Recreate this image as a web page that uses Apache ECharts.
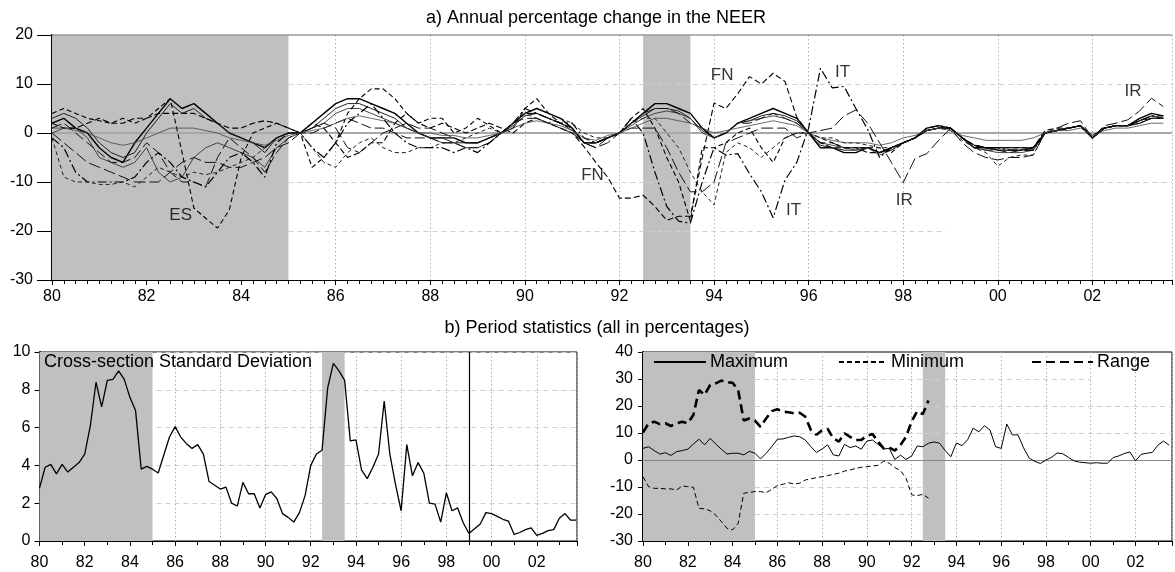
<!DOCTYPE html>
<html><head><meta charset="utf-8">
<script src="https://cdn.jsdelivr.net/npm/echarts@6/dist/echarts.min.js"></script>
<style>html,body{margin:0;padding:0;background:#fff}#c{width:1175px;height:572px}</style>
</head><body><div id="c"></div>
<script>
// ---------- DATA ----------
const startYear = 1980; // quarterly observations from 1980Q1
const shadePeriods = [[1980, 1985], [1992.5, 1993.5]];
const breakYear = 1999;

// a) Annual percentage change in the NEER (quarterly, 1980.00 .. 2003.50)
const DE = [2,3,1,0, -3,-5,-6,-2, 1,4,7,5, 6,4,2,0, -1,-2,-3,-1, 0,0,2,4, 6,7,7,6, 5,4,2,0, -1,-1,-1,-2, -2,-1,0,2, 4,5,4,3, 1,-2,-2,-1, 0,2,4,6, 6,5,4,1, -1,0,2,3, 4,5,4,3, 0,-3,-3,-4, -4,-3,-4,-3, -2,-1,1,1.5, 1,-1,-3,-3, -3.5,-3.5,-3.5,-3, 0,0.5,1,1.5, -1,1,1.5,1.5, 3,4,3.5];
const NL = [3,4,3,1, -2,-4,-5,-4, 0,3,6,4, 5,3,2,0, -1,-2,-4,-1, 0,0,1,3, 5,6,6,5, 4,3,1,0, -1,-1,-2,-2, -2,-1,0,1.5, 3.5,4,3,2, 0.5,-2,-2,-1, 0,2,3.5,5, 5,4.5,3,0.5, -1,0,2,2.5, 3.5,4,3.5,2.5, 0,-2.5,-3,-3.5, -3.5,-3,-4,-3.5, -2,-1,0.5,1, 1,-1,-2.5,-3, -3,-3,-3,-3, 0,0.5,1,1.5, -0.5,1,1.5,1.5, 2.5,3.5,3];
const BE = [0,1,1,-1, -5,-6,-7,-6, -3,-8,-10,-9, -5,-3,-2,-3, -4,-5,-7,-3, -1,0,1,2, 4,5,5,4, 3,2,1,0, -1,-2,-2,-3, -3,-2,0,2, 4,4,3,2, 1,-2,-2,-1, 0,1.5,3,4, 4.5,4,3,0, -1,0,2,2.5, 3,3.5,3,2, 0,-2,-2.5,-3, -3.5,-3,-4.5,-3.5, -2,-1,0.5,1, 1,-1,-3,-3.5, -4,-4,-4,-3.5, 0,0.5,1,1.5, -1,1,1.5,1.5, 2.5,3.5,3];
const FR = [1,2,0,-2, -4,-6,-6,-5, -2,-4,-8,-10, -10,-11,-5,-1, -3,-5,-8,-4, -1,0,0,1, 2,3,2,1, 1,0,-1,-1, -1,-2,-2,-3, -3,-2,0,2, 4,4,3,2, 1,-2,-3,-1, 0,2,4,5, 5,4,2,1, -1,0,2,2, 3,4,3,2, 0,-2,-2,-3, -3,-3,-4,-3, -2,-1,0.5,1, 1,-1,-3,-3.5, -3.5,-4,-3.5,-3.5, 0,0.5,1,1.5, -1,1,1.5,1.5, 2.5,3,3];
const ES = [4,5,4,3, 2.5,2,3,2, 3,5,7,-4, -15.3,-17.4,-19.4,-15.7, -5,0,1,2, 1,0,-7,-5, -2,4,7,9, 9,7,4,2, 3,3,0,1, 3,1.5,0,1, 5,7,4,2, 1,-2,-2,-1, 0,3,5,1, -5,-10,-18,-3, -3,-2,0,1, -3,-6,-1,0, 0,-1,-2,-3, -3,-3,-3,-4, -2,-1,0.5,1, 1,-1,-2.5,-3, -3,-3,-3,-3, 0,0.5,1,1.5, -1,1,1.5,1.5, 2,3,3];
const IT = [-1,-3,-8,-10, -10,-10,-10,-9, -6,-4,-6,-9, -10,-11,-8,-5, -4,-6,-9,-2, 0,0,-3,-5, -2,2,4,6, 3,0,-2,-3, -3,-3,-4,-3, -4,-2,0,2, 5,4,3,2, 2,-1,-2,-1, 0,3,0,-8, -15,-18,-18.4,-10, -3,-4.5,-4.2,-8.3, -12,-17.3,-9.6,-6, 1,13.2,9.2,9.5, 5,0.7,-5,-3, -2,-1,1,1.5, 1,-1,-2.5,-3, -3,-3.5,-3.5,-3.5, 0,0.5,1,1.5, -1,1,1.5,1.5, 2.5,3.5,3.5];
const FN = [2,1,1,2, 3,2,2,3, 3,4,4,4, 4,3,2,1, 1,2,2.5,2, 1,0,2,1, -2,-5,-4,-2, -2,2,4,2, 1,2,1,0, 1,2,1,0, 2,3,2,1, 0,-2.8,-6,-9, -13.3,-13.3,-12.7,-15, -17.8,-17,-17,-5, 6.1,5,8,11.5, 10,12.2,10.5,3.2, 0,-2,-3,-3, -3,-4,-4,-3, -2,-1,0.5,1, 1,-1,-2.5,-3, -3,-3,-3,-3, 0.5,1,1,1.5, -1,1,1.5,1.5, 2,3,3];
const IR = [0,-2,-4,-6, -7,-8,-9,-10, -10,-10,-8,-6, -5,-6,-6,-7, -7,-6,-5,-3, -2,0,1,2, 1,-3,-4,-2, 0,1,2,1, 1,0,-1,-2, -2,-1,0,2, 3,3,2,1, 0,-2,-3,-2, 0,1,1,1, -3,-8,-12,-12, -10,-2,-1,0, 1,1,1,-1, 0,0.5,1,3.5, 4.7,2,-2,-6, -10.1,-5.2,-4.2,-1.5, 0.9,-2,-4,-5, -5.5,-5,-5,-4.5, 0,1,2,2.5, -1,1.5,2,2.7, 4.5,7.1,5.4];
const PT = [-1,-9,-10,-10, -10.5,-10.5,-10,-11, -9,-7,-8,-9, -8,-8.5,-8,-7, -6,-5,-3,-1, 0,0,-3,-6, -7,-4,-2,-1, -3,-4,-4,-3, -3,-2,-2,-1, 0,1,0,1, 4,3,2,3, 2,0,-1,-1, 0,2,3,3, 0,-3,-8,-12, -14.7,-4,-2,-3, -5,-3,-1,0, 0,-1,-1,-2, -2,-2.5,-3,-3, -2,-1,0.5,1, 0.5,-1.5,-3,-4, -6.8,-5,-4.5,-4.5, 0,0.5,1,1.5, -1,1,1.5,1.5, 2,3,3];
const AT = [1,1,0.5,0, -1,-2,-2.5,-2, -1,0,1,1, 1,0.5,0,-1, -1.5,-2,-2.5,-1.5, -0.5,0,0.5,1, 2,3,3.5,3, 2.5,2,1,0, 0,-0.5,-0.5,-1, -1,-0.5,0,1, 2,2.5,2,1.5, 0.5,-1,-1.5,-0.5, 0,1,2,3, 3,2.5,2,1, 0,0.5,1,1.5, 2,2.5,2,1.5, 0,-1,-1.5,-2, -2,-2,-2.5,-2, -1,-0.5,0.5,1, 0.5,-0.5,-1,-1.5, -1.5,-1.5,-1.5,-1, 0,0.5,0.5,1, -0.5,0.5,1,1, 1.5,2,2];

// labels placed in panel a)
const annText = ['ES', 'FN', 'FN', 'IT', 'IT', 'IR', 'IR'];
const annX = [1982.72, 1991.43, 1994.17, 1996.72, 1995.68, 1998.02, 2002.86];
const annY = [-16.9, -8.6, 11.8, 12.4, -15.7, -13.7, 8.6];

// b) left: cross-section standard deviation (1980.00 .. 2003.75)
const stdDev = [2.8,3.9,4.05,3.55, 4.05,3.65,3.9,4.15, 4.6,6.1,8.4,7.1, 8.5,8.55,9.0,8.55, 7.6,6.9,3.8,3.95, 3.8,3.6,4.55,5.5, 6.05,5.5,5.15,4.9, 5.1,4.6,3.15,2.95, 2.75,2.85,2.0,1.85, 3.1,2.5,2.5,1.75, 2.45,2.6,2.25,1.45, 1.25,1.0,1.5,2.4, 4.0,4.6,4.8,8.1, 9.4,9.0,8.5,5.3, 5.35,3.75,3.3,3.9, 4.6,7.4,4.6,3.0, 1.6,5.1,3.45,4.15, 3.6,2.0,1.95,1.0, 2.55,1.6,1.75,0.95, 0.4,0.65,0.9,1.5, 1.45,1.3,1.15,1.05, 0.35,0.45,0.6,0.7, 0.3,0.4,0.55,0.6, 1.2,1.45,1.1,1.1];

// b) right: maximum, minimum, range
const maxVals = [4.3,4.9,3.5,2.2, 2.7,1.7,3.1,3.5, 4.0,5.9,7.7,5.6, 8.0,5.9,4.0,2.2, 2.5,2.5,1.9,3.2, 2.5,0.4,2.5,4.9, 7.7,7.8,8.4,8.9, 8.6,7.4,4.9,2.8, 4.1,5.6,1.9,1.5, 5.8,4.6,5.2,4.0, 7.0,7.4,5.8,4.1, 4.3,0.2,1.8,0.2, 1.5,5.2,4.9,6.2, 6.7,6.2,3.5,1.2, 6.3,5.3,7.5,11.8, 10.4,12.7,11.1,4.9, 4.3,13.3,9.3,9.3, 4.5,0.7,-0.5,-1.3, 0,1.0,2.6,2.3, 1.0,-0.3,-0.8,-1.0, -1.2,-1.0,-1.2,-1.2, 0.9,1.5,2.4,3.0, -0.3,2.1,2.5,2.8, 5.5,7.0,5.5];
const minVals = [-6.2,-9.9,-10.5,-10.5, -10.7,-10.7,-11.1,-9.6, -9.9,-10.1,-17.9,-18.1, -18.8,-20.4,-22.8,-25.3, -25.9,-23.5,-12.3,-12.0, -11.7,-11.7,-12.1,-10.9, -9.5,-9.0,-8.4,-8.9, -8.6,-7.4,-7.0,-6.5, -6.2,-5.8,-5.3,-4.9, -4.1,-3.7,-3.1,-2.7, -2.5,-2.2,-2.0,-0.4, -1.2,-2.8,-3.9,-6.8, -12.9,-13.2,-12.7,-14.1];
const rangeVals = [10.2,13.6,14.2,13.3, 13.6,12.6,13.6,14.2, 13.6,16.7,25.9,24.1, 27.8,28.4,29.4,28.8, 28.6,25.9,14.6,15.4, 14.6,12.3,15.4,18.1, 18.8,17.9,17.7,17.3, 17.5,16.0,11.1,9.3, 11.1,11.5,8.0,6.8, 9.9,8.6,7.4,7.4, 9.0,9.6,6.8,4.3, 4.6,3.5,5.5,8.6, 14.3,18.1,17.0,22.0];

// ---------- CHART ----------
const FONT = '"Liberation Sans", Arial, sans-serif';
function toXY(vals) { return vals.map((v, i) => [startYear + i * 0.25, v]); }
function yearLabel(v) {
  const r = Math.round(v);
  if (Math.abs(v - r) > 1e-6 || r % 2 !== 0) return '';
  return String(r % 100).padStart(2, '0');
}
const shadeArea = shadePeriods.map(p => [{ xAxis: p[0] }, { xAxis: p[1] }]);
const markAreaOpt = { silent: true, z: 1, itemStyle: { color: '#c0c0c0' }, data: shadeArea };

const GRID_DASH = { color: '#cfcfcf', type: [5, 4], width: 1 };
function hSeg(y, x0, x1) {
  return [{ coord: [x0, y], lineStyle: GRID_DASH }, { coord: [x1, y] }];
}

function xAxisOpt(gi, max, split, labelMargin) {
  return {
    type: 'value', gridIndex: gi, min: 1980, max: max, interval: 2,
    axisLine: { show: true, onZero: false, lineStyle: { color: '#000', width: 1 } },
    axisTick: { show: true, length: 5, lineStyle: { color: '#000' } },
    minorTick: { show: true, splitNumber: split, length: 4, lineStyle: { color: '#000' } },
    axisLabel: { formatter: yearLabel, fontSize: 16, color: '#000', fontFamily: FONT, margin: labelMargin },
    splitLine: { show: true, lineStyle: { color: '#b0b0b0', type: [1.5, 2.5], width: 1 } },
    minorSplitLine: { show: false }
  };
}
function yAxisOpt(gi, min, max, interval, tickLen, labelMargin, split) {
  return {
    type: 'value', gridIndex: gi, min: min, max: max, interval: interval,
    axisLine: { show: true, onZero: false, lineStyle: { color: '#000', width: 2 } },
    axisTick: { show: true, length: tickLen, lineStyle: { color: '#000' } },
    axisLabel: { fontSize: 16, color: '#000', fontFamily: FONT, margin: labelMargin },
    splitLine: { show: split, lineStyle: GRID_DASH }
  };
}

const topSeriesDefs = [
  { name: 'DE', data: DE, type: 'solid', width: 1.4, color: '#000' },
  { name: 'NL', data: NL, type: 'solid', width: 1, color: '#222' },
  { name: 'BE', data: BE, type: 'solid', width: 0.9, color: '#333' },
  { name: 'FR', data: FR, type: [10, 4], width: 1, color: '#111' },
  { name: 'ES', data: ES, type: [5, 3], width: 1.1, color: '#000' },
  { name: 'IT', data: IT, type: [9, 3, 2, 3], width: 1.2, color: '#000' },
  { name: 'FN', data: FN, type: [6, 3], width: 1.1, color: '#000' },
  { name: 'IR', data: IR, type: [12, 4], width: 1, color: '#111' },
  { name: 'PT', data: PT, type: [4, 3], width: 1, color: '#222' },
  { name: 'AT', data: AT, type: 'solid', width: 0.8, color: '#444' }
];

const series = [];
topSeriesDefs.forEach((d, i) => {
  const s = {
    name: d.name, type: 'line', xAxisIndex: 0, yAxisIndex: 0, data: toXY(d.data),
    symbol: 'none', z: 3, silent: true,
    itemStyle: { color: d.color },
    lineStyle: { color: d.color, width: d.width, type: d.type }
  };
  if (i === 0) {
    s.markArea = markAreaOpt;
    s.markLine = {
      silent: true, symbol: 'none', z: 2, label: { show: false },
      data: [
        { yAxis: 0, lineStyle: { color: '#a8a8a8', width: 2, type: 'solid' } },
        { yAxis: 20, lineStyle: { color: '#999', width: 1.5, type: 'solid' } },
        hSeg(10, 1985, 2003.684),
        hSeg(-10, 1985, 2003.684),
        hSeg(-20, 1985, 1998.9)
      ]
    };
  }
  series.push(s);
});

series.push({
  name: 'labels', type: 'scatter', xAxisIndex: 0, yAxisIndex: 0, z: 10, silent: true,
  symbolSize: 1, itemStyle: { color: 'rgba(0,0,0,0)' },
  label: { show: true, position: 'inside', formatter: '{b}', fontSize: 17, color: '#000', fontFamily: FONT },
  data: annText.map((t, i) => ({ name: t, value: [annX[i], annY[i]] }))
});

series.push({
  name: 'Std', type: 'line', xAxisIndex: 1, yAxisIndex: 1, data: toXY(stdDev),
  symbol: 'none', z: 3, silent: true,
  itemStyle: { color: '#000' },
  lineStyle: { color: '#000', width: 1.3 },
  markArea: markAreaOpt,
  markLine: {
    silent: true, symbol: 'none', z: 4, label: { show: false },
    data: [{ xAxis: breakYear, lineStyle: { color: '#000', width: 1.2, type: 'solid' } }]
  }
});

series.push({
  name: 'Maximum', type: 'line', xAxisIndex: 2, yAxisIndex: 2, data: toXY(maxVals),
  symbol: 'none', z: 3, silent: true,
  itemStyle: { color: '#000' },
  lineStyle: { color: '#000', width: 1, type: 'solid' },
  markArea: markAreaOpt,
  markLine: {
    silent: true, symbol: 'none', z: 2, label: { show: false },
    data: [
      { yAxis: 0, lineStyle: { color: '#888', width: 1.2, type: 'solid' } },
      hSeg(30, 1985, 2000.0),
      hSeg(20, 1985, 2003.63),
      hSeg(10, 1985, 2003.63),
      hSeg(-10, 1985, 1992.43),
      hSeg(-20, 1985, 1992.43)
    ]
  }
});
series.push({
  name: 'Minimum', type: 'line', xAxisIndex: 2, yAxisIndex: 2, data: toXY(minVals),
  symbol: 'none', z: 3, silent: true,
  itemStyle: { color: '#000' },
  lineStyle: { color: '#000', width: 1, type: [5, 3] }
});
series.push({
  name: 'Range', type: 'line', xAxisIndex: 2, yAxisIndex: 2, data: toXY(rangeVals),
  symbol: 'none', z: 3, silent: true,
  itemStyle: { color: '#000' },
  lineStyle: { color: '#000', width: 2.6, type: [9, 5] }
});

function legendOpt(name, left, w) {
  return {
    data: [name], left: left, top: 353, padding: 0, itemWidth: w, itemHeight: 14, itemGap: 0,
    selectedMode: false, backgroundColor: 'transparent',
    itemStyle: { opacity: 0 },
    textStyle: { fontSize: 18, color: '#000', fontFamily: FONT, padding: [0, 0, 0, -1] }
  };
}

const option = {
  animation: false,
  backgroundColor: '#fff',
  grid: [
    { left: 52, top: 35, right: -2, height: 245, show: false },
    { left: 39.5, top: 352, width: 537.5, height: 189, show: true, borderColor: '#000', borderWidth: 1, backgroundColor: 'transparent' },
    { left: 643, top: 352, right: -2, height: 189, show: true, borderColor: '#000', borderWidth: 1, backgroundColor: 'transparent' }
  ],
  xAxis: [
    xAxisOpt(0, 2003.684, 8, 9),
    xAxisOpt(1, 2003.78, 2, 14),
    xAxisOpt(2, 2003.63, 2, 14)
  ],
  yAxis: [
    yAxisOpt(0, -30, 20, 10, 15, 19, false),
    yAxisOpt(1, 0, 10, 2, 5, 9, true),
    yAxisOpt(2, -30, 40, 10, 5, 10, false)
  ],
  legend: [legendOpt('Maximum', 653, 52), legendOpt('Minimum', 838, 48), legendOpt('Range', 1031, 61)],
  graphic: [
    { type: 'text', x: 596, y: 18, silent: true,
      style: { text: 'a) Annual percentage change in the NEER', font: '18px ' + FONT, fill: '#000', align: 'center', verticalAlign: 'middle' } },
    { type: 'text', x: 597, y: 328, silent: true,
      style: { text: 'b) Period statistics (all in percentages)', font: '18px ' + FONT, fill: '#000', align: 'center', verticalAlign: 'middle' } },
    { type: 'text', x: 44, y: 362, z: 100, silent: true,
      style: { text: 'Cross-section Standard Deviation', font: '18px ' + FONT, fill: '#000', align: 'left', verticalAlign: 'middle' } }
  ],
  series: series
};

const chart = echarts.init(document.getElementById('c'), null, { renderer: 'canvas' });
chart.setOption(option);
</script></body></html>
